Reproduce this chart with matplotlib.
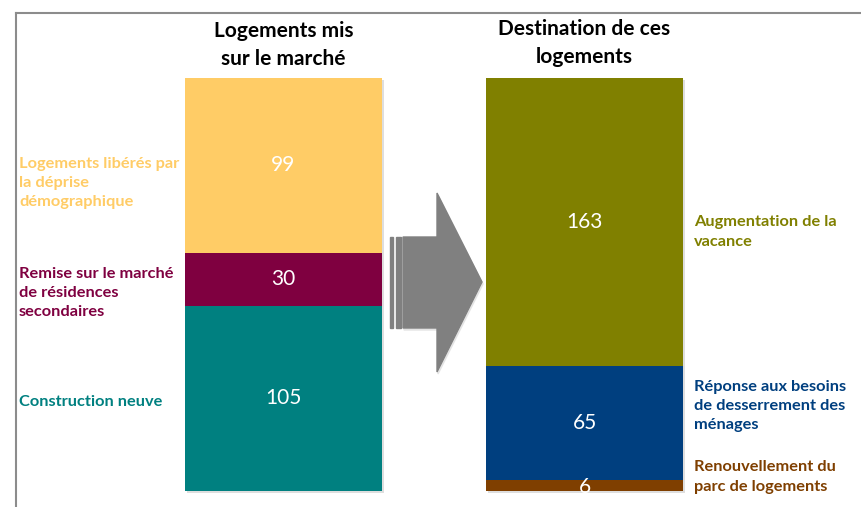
import matplotlib.pyplot as plt
from matplotlib.patches import Polygon, Rectangle
import numpy as np

plt.rcParams['font.family'] = ['Lato', 'DejaVu Sans']

# données
left_labels = ['Construction neuve', 'Remise sur le marché\nde résidences\nsecondaires',
               'Logements libérés par\nla déprise\ndémographique']
left_values = [105, 30, 99]
left_colors = ['#008080', '#7F0040', '#FFCC66']

right_labels = ['Renouvellement du\nparc de logements', 'Réponse aux besoins\nde desserrement des\nménages',
                'Augmentation de la\nvacance']
right_values = [6, 65, 163]
right_colors = ['#7F3F00', '#003F7F', '#808000']

titles = ['Logements mis\nsur le marché', 'Destination de ces\nlogements']

W, H = 861, 507
fig = plt.figure(figsize=(W / 100, H / 100), dpi=100)

# axes des barres : y=0 à 491 px depuis le haut, 234 unités ~ 413 px
scale = 413 / 234
y_base = H - 491
ax = fig.add_axes([0, 0, 1, 1])
ax.set_xlim(0, W)
ax.set_ylim(-y_base / scale, (H - y_base) / scale)
ax.axis('off')

# calque en pixels pour le cadre, la flèche et les textes
ov = fig.add_axes([0, 0, 1, 1], zorder=-1)
ov.set_xlim(0, W)
ov.set_ylim(H, 0)
ov.axis('off')

# cadre
ov.plot([16, W], [13, 13], color='#8c8c8c', lw=1.5)
ov.plot([16, 16], [13, H], color='#8c8c8c', lw=1.5)

bar_w = 197
centers = [283.5, 584.5]

for cx, vals, cols in [(centers[0], left_values, left_colors), (centers[1], right_values, right_colors)]:
    bottoms = np.concatenate([[0], np.cumsum(vals)[:-1]])
    # ombre légère
    ax.bar(cx + 1.5, sum(vals), bottom=-2 / scale, width=bar_w, color='#dedede', zorder=1)
    ax.bar(cx, vals, bottom=bottoms, width=bar_w, color=cols, zorder=2)
    for v, b in zip(vals, bottoms):
        yy = b + v / 2
        if v < 10:
            yy = b + v / 2 - 1
        ax.text(cx, yy, str(v), color='white', fontsize=15, ha='center', va='center', zorder=3)

# titres
ov.text(centers[0], 45, titles[0], fontsize=15, fontweight='bold', ha='center', va='center',
        linespacing=1.45)
ov.text(centers[1], 43, titles[1], fontsize=15, fontweight='bold', ha='center', va='center',
        linespacing=1.45)

# libellés de gauche
left_y = [402, 293, 183]
for lab, y, c in zip(left_labels, left_y, left_colors):
    ov.text(19, y, lab, color=c, fontsize=11.8, fontweight='bold', ha='left', va='center',
            linespacing=1.47)

# libellés de droite
right_y = [477, 406, 232]
for lab, y, c in zip(right_labels, right_y, right_colors):
    ov.text(694, y, lab, color=c, fontsize=11.8, fontweight='bold', ha='left', va='center',
            linespacing=1.47)

# flèche
arrow_col = '#808080'
shadow = Polygon([(404, 239), (438, 239), (438, 195), (483, 284), (438, 374), (438, 330), (404, 330)],
                 closed=True, color='#e4e4e4', zorder=1)
ov.add_patch(shadow)
head = Polygon([(403, 237), (437, 237), (437, 193), (482, 282), (437, 372), (437, 328), (403, 328)],
               closed=True, color=arrow_col, zorder=2)
ov.add_patch(head)
ov.add_patch(Rectangle((390, 237), 3, 91, color=arrow_col, zorder=2))
ov.add_patch(Rectangle((396, 237), 5, 91, color=arrow_col, zorder=2))

fig.savefig('out.png', dpi=100)
